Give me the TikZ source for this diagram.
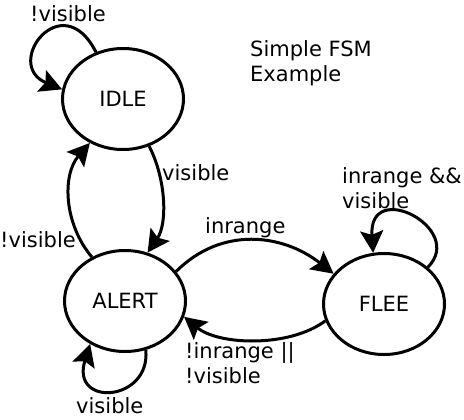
\documentclass[tikz,border=0pt]{standalone}
\usepackage{fontspec}
\setmainfont{DejaVu Sans}
\usetikzlibrary{arrows.meta,shapes.geometric}
\begin{document}
\begin{tikzpicture}[x=1bp,y=1bp,
  state/.style={ellipse, draw, line width=3bp, minimum width=121bp, minimum height=101bp, inner sep=0pt},
  edge/.style={line width=3bp, -{Stealth[length=22bp,width=23bp,inset=4bp]}},
  lbl/.style={inner sep=0pt, anchor=base west, align=left},
  font=\fontsize{21bp}{24.5bp}\selectfont]
\useasboundingbox (0,0) rectangle (464,419);
\node[state] (idle) at (123,320) {IDLE};
\node[state] (alert) at (125,118) {ALERT};
\node[state] (flee) at (384,115) {FLEE};
\draw[edge] (idle.120) .. controls +(-34,67.5) and +(-59.8,24.7) .. (idle.171);
\draw[edge] (idle.-61) .. controls +(17,-33) and +(20,29) .. (alert.65);
\draw[edge] (alert.127) .. controls +(-28,33) and +(-28,-32) .. (idle.233);
\draw[edge] (alert.30) .. controls +(45.5,45.5) and +(-51,40) .. (flee.149);
\draw[edge] (flee.196) .. controls +(-36,-27) and +(34.6,-28.4) .. (alert.-15);
\draw[edge] (flee.40) .. controls +(38.5,38.5) and +(-5,75) .. (flee.102);
\draw[edge] (alert.-67) .. controls +(5,-52) and +(-20.1,-63.7) .. (alert.-129);
\node[lbl] (l1) at (30,397) {!visible};
\node[lbl] (l2) at (162,239) {visible};
\node[lbl] (l3) at (0,172) {!visible};
\node[lbl] (l4) at (205,186) {inrange};
\node[lbl] (l5) at (185,36) {!inrange ||\\!visible};
\node[lbl] (l6) at (342,211) {inrange \&\&\\visible};
\node[lbl] (l7) at (76,6) {visible};
\node[lbl] (title) at (250,338) {Simple FSM\\Example};
\end{tikzpicture}
\end{document}
